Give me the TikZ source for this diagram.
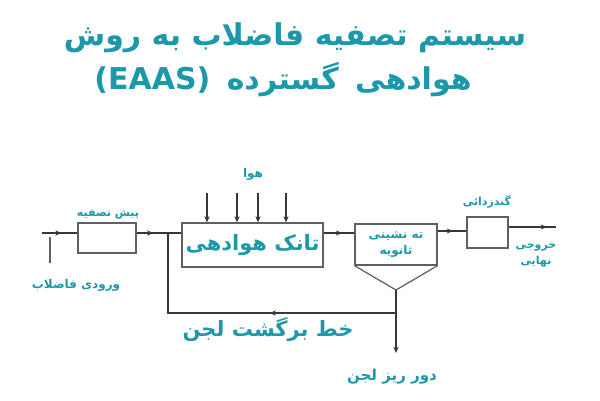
\documentclass[tikz,border=0pt]{standalone}
\usepackage{fontspec}
\usetikzlibrary{arrows.meta,decorations.markings}
\TeXXeTstate=1
\newfontfamily\arabicfont[Script=Arabic]{DejaVu Sans}
\definecolor{tealtext}{RGB}{28,152,170}
\definecolor{linegray}{RGB}{55,55,55}
\definecolor{boxgray}{RGB}{95,95,95}
\tikzset{
	unitbox/.style={draw=boxgray, line width=1.2pt, inner sep=0pt},
	fatext/.style={text=tealtext, font=\arabicfont\bfseries\fontsize{#1}{#1}\selectfont, inner sep=0pt, align=center},
	flow/.style={draw=linegray, line width=1.1pt,
		decoration={markings, mark=at position #1 with {\arrow{Stealth[length=6pt,width=5pt,inset=1.5pt]}}},
		postaction={decorate}},
	flow/.default=0.5,
	feed/.style={draw=linegray, line width=1.1pt, -{Stealth[length=6pt,width=5pt,inset=1.5pt]}}
}
\begin{document}
\begin{tikzpicture}[x=1pt,y=-1pt]
	\useasboundingbox[fill=white] (0,0) rectangle (600,400);
	% title
	\node[fatext=30] (title1) at (295,38) {\beginR سیستم تصفیه فاضلاب به روش\endR};
	\node[fatext=30] (title2) at (283,80) {\beginR هوادهی\hspace{6pt} گسترده\hspace{6pt} \beginL(EAAS)\endL\endR};
	% units
	\node[unitbox, minimum width=58, minimum height=30] (pre) at (107,238) {};
	\node[unitbox, minimum width=141, minimum height=44, fatext=21] (tank) at (252.5,245) {\beginR تانک هوادهی\endR};
	\node[unitbox, minimum width=82, minimum height=41, fatext=12] (clar) at (396,244.5) {\beginR ته نشینی\endR\\[4pt]\beginR ثانویه\endR};
	\coordinate (apex) at (396,290);
	\draw[unitbox] (clar.south west) -- (apex) -- (clar.south east);
	\node[unitbox, minimum width=41, minimum height=31] (dis) at (487.5,232.5) {};
	% labels
	\node[fatext=12] (airlab) at (253,174) {\beginR هوا\endR};
	\node[fatext=11] (prelab) at (108,214) {\beginR پیش تصفیه\endR};
	\node[fatext=12] (inlab) at (76,285) {\beginR ورودی فاضلاب\endR};
	\node[fatext=11] (dislab) at (487,202) {\beginR گندزدائی\endR};
	\node[fatext=11] (outlab) at (536,255) {\beginR خروجی\endR\\[4pt]\beginR نهایی\endR};
	\node[fatext=21] (retlab) at (268,330) {\beginR خط برگشت لجن\endR};
	\node[fatext=15] (wastelab) at (392,377) {\beginR دور ریز لجن\endR};
	% flow lines
	\coordinate (in) at (42,233);
	\coordinate (legtop) at (50,237);
	\coordinate (legend) at (50,263);
	\coordinate (j1) at (168,233);
	\coordinate (j2) at (396,313);
	\coordinate (j3) at (168,313);
	\coordinate (row) at (450,231);
	\coordinate (out) at (556,227);
	\coordinate (waste) at (396,353);
	\draw[flow=0.55] (in) -- (in -| pre.west);
	\draw[draw=boxgray, line width=1.1pt] (legtop) -- (legend);
	\draw[flow=0.37] (in -| pre.east) -- (in -| tank.west);
	\draw[flow=0.6] (in -| tank.east) -- (in -| clar.west);
	\draw[flow=0.53] (row -| clar.east) -- (row -| dis.west);
	\draw[flow=0.81] (out -| dis.east) -- (out);
	\draw[draw=linegray, line width=1.1pt] (apex) -- (j2);
	\draw[flow=0.41] (j2) -- (j3) -- (j1);
	\draw[feed] (j2) -- (waste);
	\foreach \x in {207,237,258,286}{
		\draw[feed] (\x,193) -- (tank.north -| \x,0);
	}
\end{tikzpicture}
\end{document}
